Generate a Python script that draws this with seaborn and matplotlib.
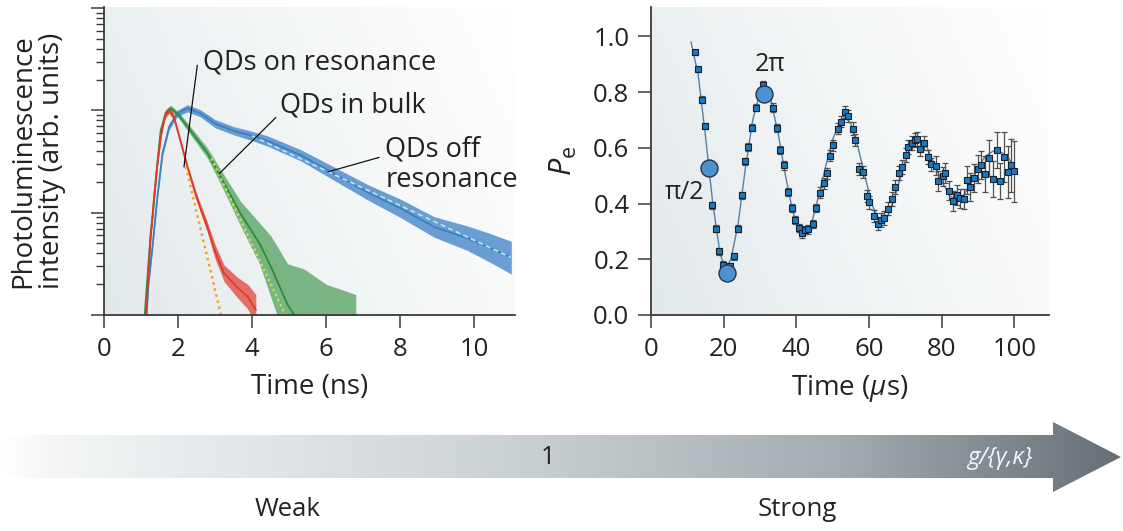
import numpy as np
import pandas as pd
import matplotlib
matplotlib.use("Agg")
import matplotlib.pyplot as plt
import seaborn as sns
from matplotlib.colors import LinearSegmentedColormap
from matplotlib.patches import Polygon
from matplotlib.ticker import LogLocator, NullFormatter

# ---------------- data: left panel (log10 intensity) ----------------
blue_t = [1.15, 1.20, 1.31, 1.44, 1.58, 1.76, 1.98, 2.25, 2.61, 3.00, 3.51, 4.00, 4.42, 5.32, 6.22, 7.12, 8.02, 8.92, 9.82, 10.40, 11.00]
blue_v = [0.00, 0.30, 0.67, 1.15, 1.58, 1.84, 1.97, 2.02, 1.97, 1.87, 1.80, 1.75, 1.70, 1.56, 1.38, 1.20, 1.04, 0.86, 0.75, 0.66, 0.56]
blue_w = [0.03, 0.03, 0.03, 0.03, 0.03, 0.03, 0.03, 0.035, 0.035, 0.04, 0.04, 0.045, 0.05, 0.055, 0.065, 0.075, 0.09, 0.10, 0.12, 0.14, 0.16]

green_t = [1.10, 1.20, 1.26, 1.31, 1.44, 1.53, 1.67, 1.80, 2.00, 2.34, 2.80, 3.15, 3.69, 4.20, 4.51, 4.96, 5.40, 6.00, 6.80]
green_v = [0.00, 0.50, 0.80, 0.95, 1.48, 1.80, 1.98, 2.02, 1.96, 1.80, 1.58, 1.35, 0.99, 0.70, 0.47, 0.10, -0.15, -0.30, -0.40]
green_w = [0.03, 0.03, 0.03, 0.03, 0.03, 0.03, 0.03, 0.03, 0.03, 0.04, 0.05, 0.07, 0.12, 0.20, 0.30, 0.40, 0.60, 0.60, 0.60]

red_t = [1.14, 1.20, 1.26, 1.35, 1.45, 1.55, 1.65, 1.76, 1.89, 2.05, 2.25, 2.50, 2.79, 3.00, 3.24, 3.60, 3.88, 4.10]
red_v = [0.00, 0.40, 0.75, 1.15, 1.50, 1.78, 1.95, 2.00, 1.93, 1.72, 1.45, 1.15, 0.86, 0.62, 0.41, 0.27, 0.18, 0.05]
red_w = [0.03, 0.03, 0.03, 0.03, 0.03, 0.03, 0.03, 0.03, 0.03, 0.03, 0.03, 0.04, 0.05, 0.07, 0.08, 0.10, 0.12, 0.15]

blue_fit_t = [4.0, 11.0]
blue_fit_v = [1.75, 0.56]
green_fit_t = [2.9, 4.9]
green_fit_v = [1.53, 0.0]
red_fit_t = [2.21, 3.16]
red_fit_v = [1.45, 0.0]

curve_labels = ['QDs on resonance', 'QDs in bulk', 'QDs off\nresonance']

# ---------------- data: right panel (Rabi oscillation) ----------------
pe_t = [12.1, 12.8, 14.0, 14.9, 16.9, 17.9, 18.8, 19.8, 21.8, 22.8, 24.0, 24.9, 25.9, 26.8, 27.7, 28.9, 30.7,
        33.7, 34.7, 35.6, 36.7, 37.6, 38.7, 39.6, 40.6, 41.5, 42.4, 43.3, 44.5, 45.5, 46.4, 47.5, 48.3, 49.2,
        50.2, 51.4, 52.3, 53.4, 54.3, 55.5, 56.1, 57.3, 58.2, 59.3, 60.1, 61.3, 62.4, 63.3, 64.2, 65.3, 66.3,
        67.2, 68.1, 69.0, 70.1, 70.8, 71.7, 72.5, 73.1, 74.1, 75.0, 76.2, 76.9, 78.4, 78.9, 80.3, 80.9, 82.1,
        83.0, 84.1, 84.9, 86.0, 87.0, 87.9, 89.0, 89.9, 90.8, 92.0, 93.1, 94.2, 95.1, 96.1, 97.2, 98.2, 99.1, 100.0]
pe_v = [0.942, 0.881, 0.773, 0.677, 0.394, 0.310, 0.229, 0.180, 0.175, 0.211, 0.310, 0.430, 0.552, 0.603, 0.672,
        0.744, 0.826, 0.744, 0.672, 0.591, 0.537, 0.442, 0.384, 0.341, 0.313, 0.293, 0.305, 0.307, 0.326, 0.384,
        0.438, 0.472, 0.509, 0.571, 0.609, 0.669, 0.693, 0.729, 0.713, 0.669, 0.627, 0.525, 0.513, 0.427, 0.404,
        0.354, 0.326, 0.341, 0.347, 0.382, 0.415, 0.460, 0.511, 0.531, 0.573, 0.603, 0.618, 0.627, 0.633, 0.594,
        0.616, 0.568, 0.540, 0.536, 0.481, 0.497, 0.509, 0.446, 0.409, 0.430, 0.418, 0.416, 0.484, 0.460, 0.490,
        0.523, 0.538, 0.507, 0.564, 0.487, 0.591, 0.481, 0.568, 0.513, 0.538, 0.516]
pe_err = [0.010, 0.010, 0.011, 0.011, 0.012, 0.012, 0.012, 0.012, 0.012, 0.012, 0.013, 0.013, 0.013, 0.013, 0.013,
          0.013, 0.013, 0.015, 0.015, 0.015, 0.015, 0.015, 0.015, 0.015, 0.015, 0.015, 0.015, 0.015, 0.015, 0.015,
          0.020, 0.020, 0.020, 0.020, 0.020, 0.020, 0.020, 0.022, 0.022, 0.022, 0.022, 0.022, 0.022, 0.022, 0.022,
          0.022, 0.022, 0.025, 0.025, 0.025, 0.025, 0.025, 0.025, 0.025, 0.025, 0.025, 0.025, 0.025, 0.025, 0.025,
          0.025, 0.025, 0.025, 0.035, 0.035, 0.035, 0.035, 0.035, 0.035, 0.035, 0.035, 0.035, 0.050, 0.050, 0.050,
          0.050, 0.050, 0.065, 0.065, 0.065, 0.065, 0.065, 0.090, 0.095, 0.095, 0.110]

fit_t = [11, 13, 15, 17, 19, 20.5, 22, 24, 26, 28, 30, 31.2, 33, 35, 37, 39, 41, 42.5, 44, 46, 48, 50, 52, 53.5,
         55, 57, 59, 61, 63, 65, 67, 69, 71, 73.5, 76, 78, 80, 82, 84, 86, 88, 90, 92, 95, 98, 100]
fit_v = [0.98, 0.86, 0.64, 0.40, 0.22, 0.165, 0.20, 0.33, 0.53, 0.70, 0.80, 0.815, 0.77, 0.65, 0.50, 0.37, 0.30,
         0.29, 0.32, 0.42, 0.53, 0.63, 0.695, 0.71, 0.685, 0.60, 0.49, 0.39, 0.335, 0.35, 0.42, 0.51, 0.59, 0.63,
         0.60, 0.54, 0.48, 0.43, 0.41, 0.43, 0.47, 0.53, 0.57, 0.595, 0.57, 0.53]

rabi_t = [15.9, 20.8, 31.2]
rabi_v = [0.528, 0.152, 0.792]
rabi_labels = ['π/2', '2π']

left_xticks = [0, 2, 4, 6, 8, 10]
right_xticks = [0, 20, 40, 60, 80, 100]
right_yticks = [0.0, 0.2, 0.4, 0.6, 0.8, 1.0]

# ---------------- style ----------------
sns.set_theme(style="ticks")
plt.rcParams['font.family'] = ['Open Sans', 'DejaVu Sans']
plt.rcParams['mathtext.fontset'] = 'custom'
plt.rcParams['mathtext.rm'] = 'Open Sans'
plt.rcParams['mathtext.it'] = 'Open Sans:italic'
TXT = '#222222'
SP = '#3a3a3a'

W, H = 1123, 531
fig = plt.figure(figsize=(W / 100, H / 100), dpi=100)
fig.patch.set_facecolor('white')

def px_rect(x0, y0, x1, y1):
    return [x0 / W, 1 - y1 / H, (x1 - x0) / W, (y1 - y0) / H]

# ---------- bottom arrow ----------
axa = fig.add_axes([0, 0, 1, 1], zorder=-10)
axa.set_xlim(0, W)
axa.set_ylim(H, 0)
axa.axis('off')
arrow_cmap = LinearSegmentedColormap.from_list(
    'arr', [(0.0, '#ffffff'), (0.05, '#f3f5f6'), (0.45, '#cbd2d5'), (0.75, '#a3acb1'), (1.0, '#656f75')])
grad = np.linspace(0, 1, 512).reshape(1, -1)
im = axa.imshow(grad, extent=(0, 1122, 493, 421), cmap=arrow_cmap, aspect='auto', interpolation='bilinear')
poly = Polygon([(0, 435), (1053, 435), (1053, 422), (1121, 457), (1053, 492), (1053, 478), (0, 478)],
               closed=True, transform=axa.transData, facecolor='none', edgecolor='none')
axa.add_patch(poly)
im.set_clip_path(poly)
axa.text(548, 458, '1', ha='center', va='center', fontsize=18, color=TXT)
axa.text(1000, 458, 'g/{γ,κ}', ha='center', va='center', fontsize=17, color='#f4f6f7', style='italic')
axa.text(288, 510, 'Weak', ha='center', va='center', fontsize=18.5, color=TXT)
axa.text(797, 510, 'Strong', ha='center', va='center', fontsize=18.5, color=TXT)

# ---------- background gradients ----------
bg_cmap = LinearSegmentedColormap.from_list('bg', ['#e2e9eb', '#f2f5f6', '#ffffff'])
xx, yy = np.meshgrid(np.linspace(0, 1, 200), np.linspace(0, 1, 200))
def add_bg(rect):
    axb = fig.add_axes(rect, zorder=-5)
    g = 0.75 * xx + 0.25 * (1 - yy)
    axb.imshow(g, cmap=bg_cmap, extent=(0, 1, 0, 1), origin='upper', aspect='auto', vmin=0, vmax=1)
    axb.axis('off')

rectL = px_rect(104, 7, 515, 315)
rectR = px_rect(651, 7, 1049, 315)
add_bg(rectL)
add_bg(rectR)

# ---------- left panel ----------
axL = fig.add_axes(rectL)
axL.set_facecolor('none')
axL.set_yscale('log')

series = [(blue_t, blue_v, blue_w, '#3b7fc6', 0.75), (green_t, green_v, green_w, '#2c8c3a', 0.6),
          (red_t, red_v, red_w, '#e0392b', 0.7)]
for t, v, w, c, a in series:
    t = np.array(t); v = np.array(v); w = np.array(w)
    axL.fill_between(t, 10 ** (v - w), 10 ** (v + w), color=c, alpha=a, lw=0)
    sns.lineplot(x=t, y=10 ** v, ax=axL, color=c, lw=1.3, estimator=None, sort=False)

sns.lineplot(x=blue_fit_t, y=10 ** np.array(blue_fit_v), ax=axL, color='#b3ecf6', lw=1.2,
             linestyle=(0, (3, 2)), estimator=None)
sns.lineplot(x=green_fit_t, y=10 ** np.array(green_fit_v), ax=axL, color='#c9ea4a', lw=1.6,
             linestyle=(0, (1, 1.5)), estimator=None)
sns.lineplot(x=red_fit_t, y=10 ** np.array(red_fit_v), ax=axL, color='#f5a21c', lw=1.8,
             linestyle=(0, (1, 1.5)), estimator=None)

axL.set_xlim(0, 11.1)
axL.set_ylim(1, 10 ** 3.01)
axL.set_xticks(left_xticks)
axL.yaxis.set_major_locator(LogLocator(base=10, numticks=10))
axL.yaxis.set_minor_locator(LogLocator(base=10, subs=np.arange(2, 10), numticks=20))
axL.yaxis.set_major_formatter(NullFormatter())
axL.yaxis.set_minor_formatter(NullFormatter())
axL.tick_params(axis='both', which='major', length=9.5, width=1.1, color=SP, labelsize=18.5,
                labelcolor=TXT, pad=6)
axL.tick_params(axis='y', which='minor', length=5.5, width=1.0, color=SP)
axL.set_xlabel('Time (ns)', fontsize=20, color=TXT, labelpad=8)
axL.set_ylabel('Photoluminescence\nintensity (arb. units)', fontsize=20, color=TXT, labelpad=12,
               linespacing=1.05)
for s in ['top', 'right']:
    axL.spines[s].set_visible(False)
for s in ['left', 'bottom']:
    axL.spines[s].set_color(SP)
    axL.spines[s].set_linewidth(1.3)

# callout lines (point on curve -> text anchor) and labels
line_kw = dict(arrowprops=dict(arrowstyle='-', color='#111111', lw=0.9, shrinkA=0, shrinkB=0))
axL.annotate('', xy=(2.16, 28), xytext=(2.52, 10 ** 2.44), **line_kw)
axL.annotate('', xy=(3.11, 24), xytext=(4.64, 10 ** 1.93), **line_kw)
axL.annotate('', xy=(6.04, 25), xytext=(7.43, 10 ** 1.54), **line_kw)
lab_kw = dict(fontsize=19.5, color=TXT, va='center', ha='left')
axL.text(2.68, 10 ** 2.47, curve_labels[0], **lab_kw)
axL.text(4.74, 10 ** 2.05, curve_labels[1], **lab_kw)
axL.text(7.60, 10 ** 1.47, curve_labels[2], linespacing=1.1, **lab_kw)

# ---------- right panel ----------
axR = fig.add_axes(rectR)
axR.set_facecolor('none')
sns.lineplot(x=fit_t, y=fit_v, ax=axR, color='#5a7ea6', lw=1.0, estimator=None, sort=False, zorder=2)
axR.errorbar(pe_t, pe_v, yerr=pe_err, fmt='none', ecolor='#505050', elinewidth=0.9, capsize=2.2,
             capthick=0.9, zorder=3)
sns.scatterplot(x=pe_t, y=pe_v, ax=axR, marker='s', s=20, color='#1a78bd', edgecolor='#15212e',
                linewidth=0.8, zorder=4)
sns.scatterplot(x=rabi_t, y=rabi_v, ax=axR, marker='o', s=150, color='#4b92cf', edgecolor='#22364a',
                linewidth=1.0, zorder=5)
axR.text(rabi_t[0] - 6.6, rabi_v[0] - 0.09, rabi_labels[0], fontsize=18, color=TXT, ha='center', va='center')
axR.text(rabi_t[2] + 1.5, rabi_v[2] + 0.105, rabi_labels[1], fontsize=18, color=TXT, ha='center', va='center')

axR.set_xlim(0, 109.5)
axR.set_ylim(0, 1.105)
axR.set_xticks(right_xticks)
axR.set_yticks(right_yticks)
axR.set_yticklabels([f'{v:.1f}' for v in right_yticks])
axR.tick_params(axis='both', which='major', length=9.5, width=1.1, color=SP, labelsize=18.5,
                labelcolor=TXT, pad=6)
axR.set_xlabel('Time ($\\mu$s)', fontsize=20, color=TXT, labelpad=8)
axR.set_ylabel('$P_{\\rm e}$', fontsize=22, color=TXT, labelpad=10)
for s in ['top', 'right']:
    axR.spines[s].set_visible(False)
for s in ['left', 'bottom']:
    axR.spines[s].set_color(SP)
    axR.spines[s].set_linewidth(1.3)

fig.savefig('out.png', dpi=100)
